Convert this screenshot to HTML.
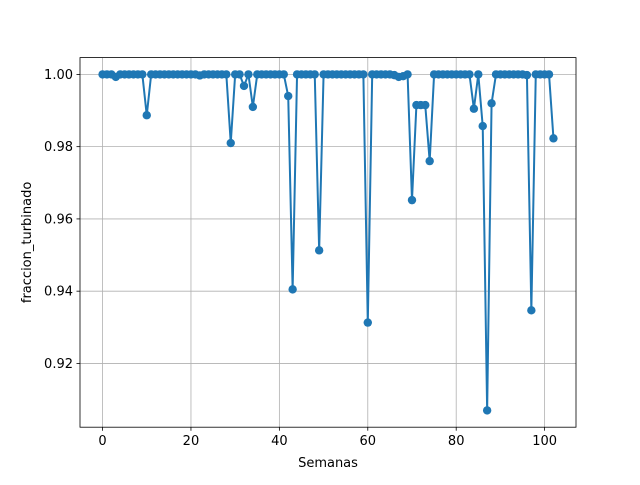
<!DOCTYPE html>
<html><head><meta charset="utf-8"><style>
body{margin:0;background:#fff}
svg text{font-family:"DejaVu Sans","Liberation Sans",sans-serif;font-size:13px;fill:#000}
</style></head><body>
<svg id="c" width="640" height="480"></svg>
<script>
const weeks=[];for(let i=0;i<=102;i++)weeks.push(i);
const fraccion=[1,1,1,0.9993,1,1,1,1,1,1,0.9887,1,1,1,1,1,1,1,1,1,1,1,0.9997,1,1,1,1,1,1,0.981,1,1,0.9968,1,0.991,1,1,1,1,1,1,1,0.994,0.9405,1,1,1,1,1,0.9513,1,1,1,1,1,1,1,1,1,1,0.9313,1,1,1,1,1,0.9998,0.9993,0.9995,1,0.9652,0.9915,0.9915,0.9915,0.976,1,1,1,1,1,1,1,1,1,0.9905,1,0.9857,0.907,0.992,1,1,1,1,1,1,1,0.9998,0.9347,1,1,1,1,0.9823];
const xTicks=[0,20,40,60,80,100];
const yTicks=[0.92,0.94,0.96,0.98,1.00];
const L=80,R=576,T=57.6,B=427.2;
const xmin=-5.1,xmax=107.1,ymin=0.90235,ymax=1.00465;
const sx=v=>L+(v-xmin)/(xmax-xmin)*(R-L);
const sy=v=>B-(v-ymin)/(ymax-ymin)*(B-T);
const svg=document.getElementById('c');const NS='http://www.w3.org/2000/svg';
function mk(t,a,p){const e=document.createElementNS(NS,t);for(const k in a)e.setAttribute(k,a[k]);(p||svg).appendChild(e);return e;}
xTicks.forEach(v=>{const x=sx(v);
const g=mk('line',{x1:x,x2:x,y1:T,y2:B,stroke:'#b0b0b0','stroke-width':0.8});


mk('line',{x1:x,x2:x,y1:B,y2:B+3.5,stroke:'#000','stroke-width':0.8});
const t=mk('text',{x:x,y:B+18,'text-anchor':'middle'});t.textContent=v;

});
yTicks.forEach(v=>{const y=sy(v);
const g=mk('line',{x1:L,x2:R,y1:y,y2:y,stroke:'#b0b0b0','stroke-width':0.8});


mk('line',{x1:L-3.5,x2:L,y1:y,y2:y,stroke:'#000','stroke-width':0.8});
const t=mk('text',{x:L-7,y:y+4.5,'text-anchor':'end'});t.textContent=v.toFixed(2);

});
const pts=weeks.map((w,i)=>sx(w)+','+sy(fraccion[i])).join(' ');
const pl=mk('polyline',{points:pts,fill:'none',stroke:'#1f77b4','stroke-width':2});


weeks.forEach((w,i)=>{const c=mk('circle',{cx:sx(w),cy:sy(fraccion[i]),r:4.2,fill:'#1f77b4'});

});
const fr=mk('rect',{x:L,y:T,width:R-L,height:B-T,fill:'none',stroke:'#000','stroke-width':0.8});


const xl=mk('text',{x:(L+R)/2,y:467,'text-anchor':'middle'});xl.textContent='Semanas';


const yl=mk('text',{x:31,y:(T+B)/2,'text-anchor':'middle',transform:'rotate(-90 31 '+((T+B)/2)+')'});yl.textContent='fraccion_turbinado';


</script>
</body></html>
